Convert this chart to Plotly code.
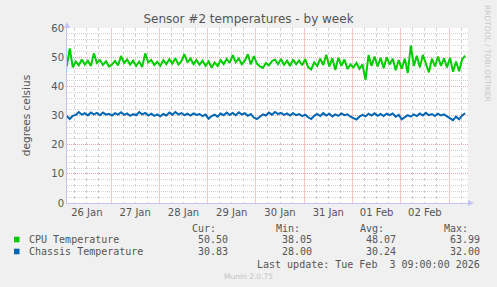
import pandas as pd
import plotly.graph_objects as go

# ---- data (90-minute samples starting 26 Jan 2026 02:00) ----
start_time = "2026-01-26 02:00"
step = "90min"

cpu_temp = [
    46.8, 53.0, 46.5, 48.5, 47.2, 49.2, 47.5, 48.8, 47.0, 51.3, 48.0, 49.0, 47.3, 48.6, 46.8,
    47.5, 48.7, 47.2, 50.4, 48.0, 49.2, 47.4, 48.8, 47.0, 48.5, 46.6, 51.3, 48.2, 49.0, 47.3, 48.4,
    47.0, 49.0, 47.6, 49.3, 47.8, 49.6, 47.5, 48.6, 51.0, 48.2, 49.5, 47.6, 49.0, 47.4, 48.8, 47.0,
    48.5, 46.4, 48.2, 47.0, 49.0, 47.6, 49.4, 48.0, 50.7, 48.2, 49.5, 47.6, 48.8, 51.0, 47.5, 50.4,
    47.8, 46.8, 46.3, 48.0, 47.2, 48.6, 49.2, 47.6, 49.4, 47.4, 48.8, 47.0, 49.2, 47.6, 48.9, 47.2,
    49.3, 46.5, 45.8, 48.2, 47.0, 49.5, 47.3, 50.8, 46.8, 49.6, 45.6, 49.8, 47.0, 49.2, 46.0, 47.5,
    46.5, 48.0, 46.0, 47.5, 42.2, 50.7, 47.0, 50.2, 46.8, 49.8, 46.2, 50.0, 47.5, 49.5, 45.5, 49.0,
    46.0, 49.5, 44.6, 54.0, 47.0, 50.5, 46.5, 50.8, 47.5, 44.8, 49.5, 46.8, 50.2, 47.0, 49.6, 46.5,
    49.8, 45.0, 48.5, 45.2, 49.2, 50.5,
]

chassis_temp = [
    29.8, 28.8, 29.9, 30.2, 31.2, 30.3, 30.8, 30.0, 31.0, 30.4, 30.9, 30.1, 31.0, 30.3, 30.6,
    30.0, 30.8, 30.3, 31.1, 30.2, 30.7, 29.9, 30.5, 30.1, 31.2, 30.4, 30.9, 30.0, 30.6, 29.9, 30.4,
    29.7, 30.5, 30.0, 31.0, 30.3, 31.2, 30.4, 30.8, 30.1, 30.6, 30.0, 30.7, 30.2, 30.5, 29.8, 30.3,
    28.9, 29.8, 30.3, 29.6, 30.7, 30.1, 31.0, 30.2, 30.9, 30.1, 31.1, 30.3, 30.8, 29.9, 30.5, 29.3,
    28.8, 29.6, 30.4, 30.0, 31.0, 30.3, 31.2, 30.5, 30.9, 30.2, 30.7, 30.0, 30.8, 30.1, 30.5, 29.8,
    30.3, 29.4, 28.8, 29.9, 30.5, 29.8, 30.8, 30.0, 30.6, 29.7, 30.4, 29.9, 30.7, 30.1, 30.4, 29.6,
    29.2, 28.6, 29.6, 30.2, 29.7, 30.6, 30.0, 30.8, 29.9, 30.5, 29.8, 30.6, 30.1, 30.7, 29.6, 30.2,
    28.7, 29.3, 30.1, 29.6, 30.4, 29.8, 30.7, 30.0, 30.9, 30.1, 30.5, 29.8, 30.6, 30.0, 30.4, 29.7,
    29.0, 28.4, 29.6, 28.7, 30.0, 30.8,
]

series_names = ["CPU Temperature", "Chassis Temperature"]
series_colors = ["#00CC00", "#0066B3"]
legend_headers = ["Cur:", "Min:", "Avg:", "Max:"]
cpu_stats = ["50.50", "38.05", "48.07", "63.99"]
chassis_stats = ["30.83", "28.00", "30.24", "32.00"]

title_text = "Sensor #2 temperatures - by week"
y_title = "degrees celsius"
last_update = "Last update: Tue Feb  3 09:00:00 2026"
footer = "Munin 2.0.75"
side_text = "RRDTOOL / TOBI OETIKER"
x_range = ["2026-01-26 02:08", "2026-02-03 09:26"]
y_range = [0, 60]

times = pd.date_range(start_time, periods=len(cpu_temp), freq=step)

# ---- layout geometry (pixels) ----
W, H = 497, 287
L, R, T, B = 67, 29, 28, 84
PW, PH = W - L - R, H - T - B


def px(x):
    return (x - L) / PW


def py(y):
    return (H - B - y) / PH


axis_col = "#C4C4F4"
minor_grid = "#D2D2D2"
major_grid = "#EAA8A8"
day_grid = "#F2C8C8"
text_col = "#555555"
dots = "1px,1px"

fig = go.Figure()
for name, vals, col in zip(series_names, [cpu_temp, chassis_temp], series_colors):
    fig.add_trace(go.Scatter(x=times, y=vals, mode="lines", name=name,
                             line=dict(color=col, width=2), showlegend=False))

fig.update_layout(
    width=W, height=H,
    margin=dict(l=L, r=R, t=T, b=B, pad=0),
    paper_bgcolor="#F0F0F0", plot_bgcolor="#FFFFFF",
    font=dict(family="DejaVu Sans", size=10, color=text_col),
    title=dict(text=title_text, x=0.5, xanchor="center", y=1 - 19 / H, yanchor="middle",
               font=dict(size=12, color="#555555")),
    xaxis=dict(
        range=x_range, type="date",
        tick0="2026-01-26 00:00", dtick=86400000, tickformat="%d %b",
        ticklabelmode="period", ticks="", ticklen=0,
        showgrid=True, gridcolor=day_grid, griddash="solid", gridwidth=1,
        minor=dict(dtick=6 * 3600000, tick0="2026-01-26 00:00", showgrid=True,
                   gridcolor=minor_grid, griddash="dot", gridwidth=1),
        showline=True, linecolor=axis_col, linewidth=1,
        zeroline=False, tickfont=dict(size=10, color=text_col),
    ),
    yaxis=dict(
        range=y_range, dtick=10, ticks="", ticklen=0,
        showgrid=True, gridcolor=major_grid, griddash=dots, gridwidth=1,
        minor=dict(dtick=2, showgrid=True, gridcolor=minor_grid, griddash=dots, gridwidth=1),
        showline=True, linecolor=axis_col, linewidth=1, zeroline=False,
        tickfont=dict(size=10, color=text_col),
        title=dict(text=y_title, font=dict(size=10.5, color=text_col), standoff=18),
    ),
)

# axis arrows
fig.add_shape(type="path", xref="paper", yref="paper", xsizemode="pixel", ysizemode="pixel",
              xanchor=0, yanchor=1, path="M -3,0 L 3,0 L 0,6 Z",
              fillcolor=axis_col, line=dict(width=0), layer="above")
fig.add_shape(type="path", xref="paper", yref="paper", xsizemode="pixel", ysizemode="pixel",
              xanchor=1, yanchor=0, path="M 0,-3 L 0,3 L 6,0 Z",
              fillcolor=axis_col, line=dict(width=0), layer="above")

mono = dict(family="DejaVu Sans Mono", size=10, color=text_col)


def ann(x, y, text, xanchor="left", font=mono, **kw):
    fig.add_annotation(x=px(x), y=py(y), xref="paper", yref="paper", text=text,
                       showarrow=False, xanchor=xanchor, yanchor="middle", font=font, **kw)


# legend header
header_right = [218, 302, 386, 470]
for hx, h in zip(header_right, legend_headers):
    ann(hx, 228, h, xanchor="right")

value_right = [230, 314, 398, 482]
rows_y = [239.5, 251.5]
for ry, name, col, stats in zip(rows_y, series_names, series_colors, [cpu_stats, chassis_stats]):
    fig.add_shape(type="rect", xref="paper", yref="paper",
                  x0=px(14), x1=px(19.5), y0=py(ry - 2.8), y1=py(ry + 2.8),
                  fillcolor=col, line=dict(width=0))
    ann(26.5, ry, name)
    for vx, v in zip(value_right, stats):
        ann(vx, ry, v, xanchor="right")

ann(482, 264, last_update, xanchor="right")
ann(248, 276, footer, xanchor="center",
    font=dict(family="DejaVu Sans", size=7.5, color="#C4C4C4"))
fig.add_annotation(x=px(488), y=py(53), xref="paper", yref="paper", text=side_text,
                   showarrow=False, textangle=90, xanchor="center", yanchor="middle",
                   font=dict(family="DejaVu Sans", size=7.5, color="#C8C8C8"))

fig.write_html("out.html")
